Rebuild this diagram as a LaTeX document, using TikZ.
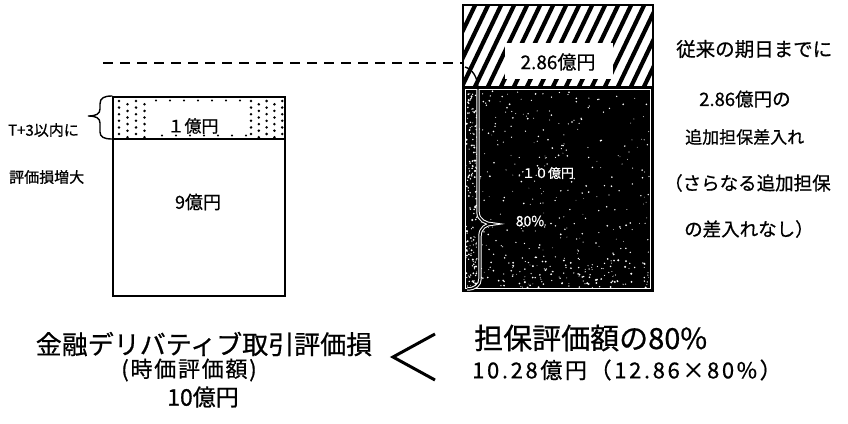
\documentclass[tikz,border=0pt]{standalone}
\usepackage{fontspec}
\setmainfont{Noto Sans CJK JP}[FakeBold=0.7]
\begin{document}
\begin{tikzpicture}[x=1pt,y=-1pt,
  lbl/.style={inner sep=0pt,font=\fontsize{#1pt}{#1pt}\selectfont},
  boxline/.style={draw=black,line width=1.8pt},
  bracestroke/.style={line width=1.4pt,line cap=round},
  dot/.style={fill=black},
  speck/.style={fill=white}]
\useasboundingbox (0,0) rectangle (848,423);
\fill[white] (0,0) rectangle (848,423);

% ---------- dashed 80% level line ----------
\coordinate (dashL) at (103,63);
\coordinate (dashR) at (464,63);
\draw[line width=2.6pt,dash pattern=on 10pt off 7pt] (dashL) -- (dashR);

% ---------- left box ----------
\node[draw=none,inner sep=0pt,minimum width=172pt,minimum height=42pt] (dotbox) at (199,118) {};
\node[draw=none,inner sep=0pt,minimum width=172pt,minimum height=157pt] (ninebox) at (199,217.5) {};
% dots
\foreach \c in {0,...,3}{
  \foreach \r in {0,...,5}{
    \pgfmathsetmacro\dx{119+\c*8.5}
    \pgfmathsetmacro\dy{101+\r*6.6+mod(\c,2)*3.3}
    \fill[dot] (\dx,\dy) circle[radius=1.4pt];
  }}
\foreach \c in {0,...,4}{
  \foreach \r in {0,...,5}{
    \pgfmathsetmacro\dx{251+\c*7.8}
    \pgfmathsetmacro\dy{101+\r*6.6+mod(\c,2)*3.3}
    \fill[dot] (\dx,\dy) circle[radius=1.4pt];
  }}
\foreach \dx in {156,170,184,198,212,226,240}{
  \fill[dot] (\dx,100.5) circle[radius=1.2pt];
  \fill[dot] (\dx+6,135.5) circle[radius=1.2pt];
}
\draw[boxline] (dotbox.north west) rectangle (ninebox.south east);
\draw[boxline] (dotbox.south west) -- (dotbox.south east);
\node[lbl=17] (oneoku) at (193,126) {１億円};
\node[lbl=18] (nineoku) at (198,202) {9億円};

% left brace
\coordinate (lbTop) at (112,96);
\coordinate (lbTip) at (88,116);
\coordinate (lbBot) at (112,139);
\draw[bracestroke] (lbTop) .. controls (104,96) and (100,98) .. (100,104) -- (100,109)
  .. controls (100,114) and (96,116) .. (lbTip)
  .. controls (96,116) and (100,118) .. (100,123) -- (100,132)
  .. controls (100,137) and (104,139) .. (lbBot);
\node[lbl=15,anchor=west] (tthree) at (8,130) {T+3以内に};
\node[lbl=15,anchor=west] (hyouka) at (9,177) {評価損増大};

% ---------- right box: hatched part ----------
\node[inner sep=0pt,minimum width=190pt,minimum height=82pt] (hatch) at (558,46) {};
\begin{scope}
  \clip (hatch.north west) rectangle (hatch.south east);
  \foreach \x in {380,393,...,660}{
    \draw[line width=4.2pt] (\x,95) -- (\x+48,-5);
  }
\end{scope}
\node[fill=white,inner sep=0pt,minimum width=108pt,minimum height=36pt] (whitebox) at (559,61) {};
\node[lbl=19] (twoeight) at (558,62) {2.86億円};

% ---------- right box: dark part ----------
\node[fill=black,inner sep=0pt,minimum width=190pt,minimum height=204pt] (dark) at (558,189) {};
\pgfmathsetseed{42}
\foreach \i in {1,...,320}{
  \pgfmathsetmacro\px{467+183*rnd}
  \pgfmathsetmacro\py{91+196*rnd}
  \pgfmathsetmacro\pr{0.35+0.6*rnd}
  \fill[speck] (\px,\py) circle[radius=\pr pt];
}
\foreach \i in {1,...,140}{
  \pgfmathsetmacro\px{466+11*rnd}
  \pgfmathsetmacro\py{91+196*rnd}
  \pgfmathsetmacro\pr{0.4+0.7*rnd}
  \fill[speck] (\px,\py) circle[radius=\pr pt];
}
\foreach \i in {1,...,120}{
  \pgfmathsetmacro\px{467+183*rnd}
  \pgfmathsetmacro\py{258+30*rnd}
  \pgfmathsetmacro\pr{0.4+0.7*rnd}
  \fill[speck] (\px,\py) circle[radius=\pr pt];
}
\draw[white,line width=1pt] ([shift={(2.5pt,-2.5pt)}]dark.north west) rectangle ([shift={(-2.5pt,2.5pt)}]dark.south east);
\draw[boxline] (hatch.north west) rectangle (dark.south east);
\draw[boxline] (hatch.south west) -- (hatch.south east);

% 80% brace
\coordinate (rbTop) at (465,67);
\coordinate (rbJoin) at (478,89);
\coordinate (rbTip) at (493,224);
\coordinate (rbBot) at (467,289);
\draw[line width=1.4pt] (rbTop) .. controls (472,69) and (478,77) .. (rbJoin);
\draw[draw=white,double=black,double distance=1.4pt,line width=1pt]
  (rbJoin) -- (478,212) .. controls (478,220) and (486,224) .. (rbTip)
  .. controls (486,224) and (480,228) .. (480,236) -- (480,279)
  .. controls (480,285) and (475,289) .. (rbBot);
\node[lbl=13,text=white] (tenoku) at (548,173) {１０億円};
\node[lbl=14,text=white] (eighty) at (530,221) {80\%};

% ---------- right text ----------
\node[lbl=19.5,anchor=west] (r1) at (676,49) {従来の期日までに};
\node[lbl=18.5,anchor=west] (r2) at (699,99) {2.86億円の};
\node[lbl=17,anchor=west] (r3) at (685,137) {追加担保差入れ};
\node[lbl=18.5,anchor=west] (r4) at (664,183) {（さらなる追加担保};
\node[lbl=18.5,anchor=west] (r5) at (684,229) {の差入れなし）};

% ---------- bottom ----------
\node[lbl=26] (deriv) at (204,344) {金融デリバティブ取引評価損};
\node[lbl=22] (jika) at (189,370) {\addfontfeature{LetterSpace=8}(時価評価額)};
\node[lbl=23] (tenb) at (203,397) {10億円};
\coordinate (lt1) at (435,334);
\coordinate (lt2) at (393,357);
\coordinate (lt3) at (435,380);
\draw[line width=3pt] (lt1) -- (lt2) -- (lt3);
\node[lbl=29,anchor=west] (tanpo) at (474,338) {担保評価額の80\%};
\node[lbl=22,anchor=west] (tenpt) at (472,370) {\addfontfeature{LetterSpace=12}10.28億円（12.86×80\%）};
\end{tikzpicture}
\end{document}
